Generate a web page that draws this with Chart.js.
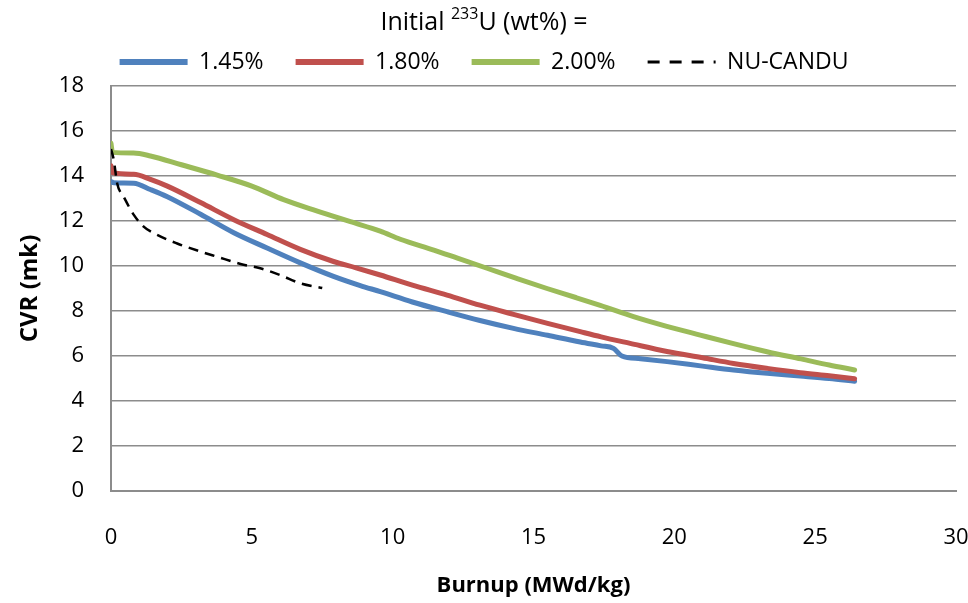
<!DOCTYPE html>
<html>
<head>
<meta charset="utf-8">
<script src="https://cdn.jsdelivr.net/npm/chart.js@4/dist/chart.umd.min.js"></script>
<style>
  html, body { margin: 0; padding: 0; background: #fff; }
  #wrap { width: 968px; height: 603px; }
</style>
</head>
<body>
<div id="wrap"><canvas id="cvrChart" width="968" height="603"></canvas></div>
<script>
// burnup (MWd/kg) vs CVR (mk)
const burnup145 = [0, 0.1, 0.81, 1.4, 2.0, 3.18, 4.36, 5.54, 6.72, 7.9, 8.85, 9.56, 10.7, 11.93, 13.1, 14.29, 15.5, 16.66, 17.4, 17.84, 18.14, 18.8, 19.74, 21.0, 22.1, 23.3, 24.47, 25.5, 26.4];
const cvr145    = [13.75, 13.7, 13.68, 13.4, 13.08, 12.3, 11.48, 10.8, 10.14, 9.54, 9.13, 8.86, 8.4, 7.97, 7.58, 7.23, 6.92, 6.62, 6.45, 6.34, 6.0, 5.88, 5.75, 5.55, 5.38, 5.23, 5.11, 5.0, 4.88];

const burnup180 = [0, 0.05, 0.81, 1.4, 2.0, 3.18, 4.36, 5.54, 6.72, 7.9, 8.7, 9.56, 10.7, 11.93, 13.1, 14.29, 15.5, 16.66, 17.4, 18.43, 19.74, 21.0, 22.1, 23.3, 24.47, 25.5, 26.4];
const cvr180    = [14.45, 14.15, 14.08, 13.85, 13.55, 12.82, 12.06, 11.4, 10.74, 10.2, 9.92, 9.6, 9.15, 8.71, 8.26, 7.85, 7.45, 7.08, 6.85, 6.56, 6.2, 5.92, 5.67, 5.45, 5.26, 5.12, 4.99];

const burnup200 = [0, 0.05, 0.8, 1.4, 2.5, 3.77, 5.0, 6.13, 7.3, 8.5, 9.56, 10.27, 11.46, 12.3, 13.35, 14.4, 15.48, 16.5, 17.37, 18.55, 19.7, 20.92, 22.1, 23.29, 24.5, 25.5, 26.4];
const cvr200    = [15.45, 15.05, 15.02, 14.89, 14.5, 14.04, 13.55, 12.95, 12.45, 11.97, 11.55, 11.19, 10.71, 10.35, 9.9, 9.45, 9.0, 8.6, 8.25, 7.75, 7.33, 6.93, 6.55, 6.19, 5.87, 5.6, 5.38];

const burnupNU = [0, 0.1, 0.22, 0.45, 0.81, 1.16, 1.64, 2.35, 3.18, 3.77, 4.6, 5.3, 6.0, 6.72, 7.5];
const cvrNU    = [15.2, 14.7, 13.67, 13.08, 12.27, 11.75, 11.38, 11.0, 10.64, 10.41, 10.09, 9.9, 9.6, 9.23, 9.02];

const seriesNames = ['1.45%', '1.80%', '2.00%', 'NU-CANDU'];
const xTicks = [0, 5, 10, 15, 20, 25, 30];
const yTicks = [0, 2, 4, 6, 8, 10, 12, 14, 16, 18];

const pts = (xs, ys) => xs.map((x, i) => ({ x: x, y: ys[i] }));

Chart.defaults.font.family = "'Open Sans', Arial, sans-serif";
Chart.defaults.font.size = 22;
Chart.defaults.color = '#000';

const TITLE_PAD_TOP = 10;
const LEGEND_HEIGHT = 86;

// fixed legend block height, plus the legend title with a raised "233"
const legendBlock = {
  id: 'legendBlock',
  beforeLayout(chart) {
    const lg = chart.legend;
    if (lg && !lg._fixedFit) {
      const fit = lg.fit;
      lg.fit = function () { fit.call(this); this.height = LEGEND_HEIGHT; };
      lg._fixedFit = true;
    }
  },
  afterDraw(chart) {
    const lg = chart.legend;
    const ctx = chart.ctx;
    const big = "25px 'Open Sans', Arial, sans-serif";
    const small = "16px 'Open Sans', Arial, sans-serif";
    const parts = [['Initial ', big, 0], ['233', small, -8], ['U (wt%) =', big, 0]];
    ctx.save();
    ctx.fillStyle = '#000';
    ctx.textBaseline = 'middle';
    ctx.textAlign = 'left';
    let total = 0;
    parts.forEach(p => { ctx.font = p[1]; total += ctx.measureText(p[0]).width; });
    let x = (lg.left + lg.right) / 2 - total / 2;
    const y = lg.top + TITLE_PAD_TOP + 12.5;
    parts.forEach(p => {
      ctx.font = p[1];
      ctx.fillText(p[0], x, y + p[2]);
      x += ctx.measureText(p[0]).width;
    });
    ctx.restore();
  }
};

const solid = (label, data, color, order) => ({
  label: label, data: data, borderColor: color, backgroundColor: color,
  borderWidth: 5, pointRadius: 0, cubicInterpolationMode: 'monotone',
  borderCapStyle: 'round', borderJoinStyle: 'round', order: order
});

new Chart(document.getElementById('cvrChart').getContext('2d'), {
  type: 'line',
  data: {
    datasets: [
      solid(seriesNames[0], pts(burnup145, cvr145), '#4f81bd', 4),
      solid(seriesNames[1], pts(burnup180, cvr180), '#c0504d', 3),
      solid(seriesNames[2], pts(burnup200, cvr200), '#9bbb59', 2),
      {
        label: seriesNames[3], data: pts(burnupNU, cvrNU),
        borderColor: '#000', backgroundColor: '#000', borderWidth: 2.5,
        borderDash: [10, 7], pointRadius: 0, cubicInterpolationMode: 'monotone', order: 1
      }
    ]
  },
  plugins: [legendBlock],
  options: {
    responsive: false,
    animation: false,
    layout: { padding: { left: 0, right: 0, top: 0, bottom: 0 } },
    plugins: {
      tooltip: { enabled: false },
      legend: {
        position: 'top',
        title: {
          display: true, text: 'Initial ²³³U (wt%) =', color: 'rgba(0,0,0,0)',
          font: { size: 23 }, padding: { top: TITLE_PAD_TOP, bottom: -19 }
        },
        labels: {
          usePointStyle: true, pointStyle: 'line', pointStyleWidth: 68,
          padding: 32,
          font: { size: 23 },
          sort: (a, b) => a.datasetIndex - b.datasetIndex,
          generateLabels: chart => {
            const items = Chart.defaults.plugins.legend.labels.generateLabels(chart);
            items.forEach(it => {
              it.lineWidth = it.datasetIndex === 3 ? 3 : 6;
              if (it.datasetIndex === 3) it.lineDash = [12, 10];
            });
            return items;
          }
        }
      }
    },
    scales: {
      x: {
        type: 'linear', min: 0, max: 30,
        afterBuildTicks: s => { s.ticks = xTicks.map(v => ({ value: v })); },
        afterFit: s => { s.height = 112; s.paddingLeft = 0; s.paddingRight = 12; },
        grid: { display: false },
        border: { color: '#8c8c8c', width: 2 },
        ticks: { padding: 26 },
        title: { display: true, text: 'Burnup (MWd/kg)', font: { weight: 'bold', size: 22 }, padding: { bottom: 4 } }
      },
      y: {
        min: 0, max: 18,
        afterBuildTicks: s => { s.ticks = yTicks.map(v => ({ value: v })); },
        afterFit: s => { s.width = 111; s.paddingTop = 0; s.paddingBottom = 0; },
        grid: { color: '#8c8c8c', lineWidth: 1.5, drawTicks: false },
        border: { color: '#8c8c8c', width: 2 },
        ticks: { padding: 27 },
        title: { display: true, text: 'CVR (mk)', font: { weight: 'bold', size: 24 }, padding: { top: 16 } }
      }
    }
  }
});
</script>
</body>
</html>
